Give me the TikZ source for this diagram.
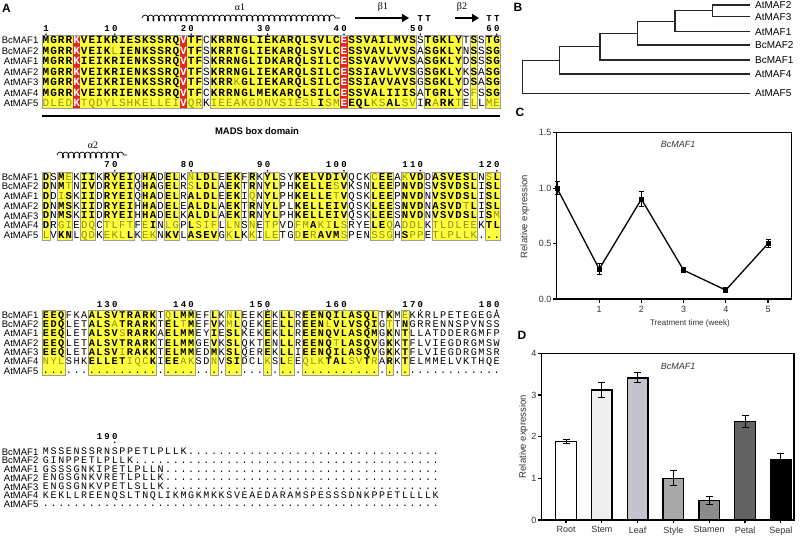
\documentclass[tikz,border=0pt]{standalone}
\usepackage{fontspec}
\setmainfont{Liberation Sans}
\newfontfamily\monof{Liberation Mono}
\newfontfamily\serf{Liberation Serif}
\usetikzlibrary{decorations.pathmorphing,arrows.meta}
\definecolor{yel}{HTML}{FFFF3C}
\definecolor{redb}{HTML}{E3262B}
\definecolor{oliv}{HTML}{8F8F1A}
\definecolor{frmc}{HTML}{9C9C9C}
\definecolor{axc}{HTML}{333333}
\makeatletter
\def\rep#1#2{\ifnum#2>0 #1\expandafter\rep\expandafter#1\expandafter{\the\numexpr#2-1\relax}\fi}
\newcount\alcol
\def\alxz{46}
\def\alfb{\monof\bfseries\fontsize{11}{11}\selectfont}
\def\alfn{\monof\fontsize{11}{11}\selectfont}
\def\numf{\monof\bfseries\fontsize{9}{9}\selectfont}
\def\alrow#1#2#3{\global\alcol=0\relax\def\al@y{#1}\edef\al@types{#2}\edef\al@seq{#3}\expandafter\al@loop\al@seq\relax}
\def\al@loop#1{\ifx#1\relax\else\al@char{#1}\expandafter\al@loop\fi}
\def\al@pop#1#2\@nil{\def\al@t{#1}\def\al@types{#2}}
\def\al@char#1{%
  \expandafter\al@pop\al@types\@nil
  \pgfmathsetmacro\al@x{\alxz+7.64*\the\alcol}%
  \pgfmathsetmacro\al@yy{\al@y+3.1}%
  \if R\al@t \node[ch,text=white,font=\alfb] at (\al@x,\al@yy) {#1};%
  \else\if W\al@t \node[ch,font=\alfn] at (\al@x,\al@yy) {\uppercase{#1}};%
  \else\ifnum\uccode`#1=\z@ \node[ch,font=\alfn] at (\al@x,\al@yy) {#1};%
  \else\ifnum\uccode`#1=`#1\relax \node[ch,font=\alfb] at (\al@x,\al@yy) {#1};%
  \else \node[ch,text=oliv,font=\alfn] at (\al@x,\al@yy) {\uppercase{#1}};%
  \fi\fi\fi\fi
  \global\advance\alcol by 1\relax}
\makeatother
\edef\bA{\rep Y4R\rep Y{13}R\rep Y2W\rep Y{17}R\rep Y9W\rep Y5WYWYY}
\edef\bB{YWYYWYYW\rep Y4WYYWYYW\rep Y4WYYWYWYYWW\rep Y7WWW\rep Y3W\rep Y3W\rep Y6WYY}
\edef\bC{YYYWWW\rep Y9W\rep Y4WWYWYYWWWYWYYW\rep Y{10}WYWY\rep W{12}}
\edef\bD{\rep W{52}}
\newcommand\cxl[1]{46+7.64*(#1-1)-3.82}
\newcommand\cxr[1]{46+7.64*(#1-1)+3.82}
\newcommand\yfill[4]{\fill[yel] ({\cxl{#3}},#1) rectangle ({\cxr{#4}},#2);}
\newcommand\rfill[3]{\fill[redb] ({\cxl{#3}},#1) rectangle ({\cxr{#3}},#2);}
\newcommand\frm[4]{\draw[frmc,line width=0.6pt] ({\cxl{#3}},#1) rectangle ({\cxr{#4}},#2);}
\newcommand\yb[4]{\yfill{#1}{#2}{#3}{#4}\frm{#1}{#2}{#3}{#4}}
\newcommand\numlab[4]{%
  \foreach \dg [count=\i] in {#4}{\node[ch,font=\numf] at ({46+7.64*(#2-#3+\i-1)},{#1+3}) {\dg};}
  \fill ({46+7.64*(#2-1)},{#1+6.2}) circle (0.9);}
\begin{document}
\begin{tikzpicture}[x=1pt,y=-1pt,
  ch/.style={inner sep=0pt,anchor=base},
  lab/.style={inner sep=0pt,anchor=east,font=\fontsize{9.5}{9.5}\selectfont},
  plab/.style={inner sep=0pt,font=\bfseries\fontsize{12}{12}\selectfont},
  leaf/.style={inner sep=0pt,anchor=west,font=\fontsize{10}{10}\selectfont},
  edge/.style={line width=1.1pt,black!85},
  ax/.style={line width=1.2pt,black},
  tick/.style={inner sep=0pt,font=\fontsize{9}{9}\selectfont,text=axc},
  mk/.style={rectangle,fill=black,minimum size=5pt,inner sep=0pt},
  eb/.style={line width=1pt,black}]
\useasboundingbox (0,0) rectangle (800,538);
\fill[white] (0,0) rectangle (800,538);
% ---------------- panel A ----------------
\node[plab] (pA) at (6.5,8.5) {A};
% block 1 annotations
\draw[line width=0.7pt,decorate,decoration={coil,aspect=0.6,segment length=5.5pt,amplitude=3pt}] (142,18) -- (340,18);
\node[font=\serf\fontsize{10}{10}\selectfont] (a1) at (240,7) {α1};
\coordinate (b1s) at (355,18); \coordinate (b1e) at (409,18);
\draw[line width=2.2pt,-{Triangle[length=7pt,width=8pt]}] (b1s) -- (b1e);
\node[font=\serf\fontsize{10}{10}\selectfont] (b1) at (383,7) {β1};
\coordinate (b2s) at (455,18); \coordinate (b2e) at (479,18);
\draw[line width=2.2pt,-{Triangle[length=7pt,width=8pt]}] (b2s) -- (b2e);
\node[font=\serf\fontsize{10}{10}\selectfont] (b2) at (462,7) {β2};
\foreach \c in {50,51,59,60}{\node[ch,font=\numf] at ({46+7.64*(\c-1)},21.5) {T};}
\numlab{28}{1}{1}{1}
\numlab{28}{10}{2}{1,0}
\numlab{28}{20}{2}{2,0}
\numlab{28}{30}{2}{3,0}
\numlab{28}{40}{2}{4,0}
\numlab{28}{50}{2}{5,0}
\numlab{28}{60}{2}{6,0}
% block 1 backgrounds
\yfill{35.25}{108.75}{1}{21}\yfill{35.25}{108.75}{23}{49}\yfill{35.25}{108.75}{51}{55}\yfill{35.25}{108.75}{57}{57}\yfill{35.25}{108.75}{59}{60}
\rfill{35.25}{108.75}{5}\rfill{35.25}{108.75}{19}\rfill{35.25}{108.75}{40}
\frm{35.25}{108.75}{1}{21}\frm{35.25}{108.75}{23}{49}\frm{35.25}{108.75}{51}{55}\frm{35.25}{108.75}{57}{57}\frm{35.25}{108.75}{59}{60}
\foreach \nm [count=\i] in {BcMAF1,BcMAF2,AtMAF1,AtMAF2,AtMAF3,AtMAF4,AtMAF5}{\node[lab] (lA\i) at (38.5,{40.5+10.5*(\i-1)}) {\nm};}
\alrow{40.5}{\bA}{MGRRKVEIKRIESKSSRQVTFCKRRNGLIEKARQLSVLCESSVAILMVSSTGKLYTSSTG}
\alrow{51}{\bA}{MGRRKVEIKlIENKSSRQVTFSKRRTGLIEKARQLSVLCESSVAVLVVSASGKLYNSSSG}
\alrow{61.5}{\bA}{MGRRKIEIKRIENKSSRQVTFSKRRNGLIDKARQLSILCESSVAVVVVSASGKLYDSSSG}
\alrow{72}{\bA}{MGRRKVEIKRIENKSSRQVTFSKRRNGLIEKARQLSILCESSIAVLVVSGSGKLYKSASG}
\alrow{82.5}{\bA}{MGRRKVEIKRIENKSSRQVTFSKRRkGLIEKARQLSILCESSIAVVAVSGSGKLYDSASG}
\alrow{93}{\bA}{MGRRKVEIKRIENKSSRQVTFCKRRNGLMEKARQLSILCESSVALIIISATGRLYSfSSG}
\alrow{103.5}{\bA}{dledKtqdylshkelleiVqrKieeakgdnvsieslIsmEEQLksALsvIRaRKtElLme}
\coordinate (md1) at (42,116); \coordinate (md2) at (500,116);
\draw[line width=1.4pt] (md1) -- (md2);
\node[font=\bfseries\fontsize{9.5}{9.5}\selectfont] (mads) at (257,131) {MADS box domain};
% block 2
\def\alfb{\monof\bfseries\fontsize{10.6}{10.6}\selectfont}
\def\alfn{\monof\fontsize{10.6}{10.6}\selectfont}
\draw[line width=0.7pt,decorate,decoration={coil,aspect=0.6,segment length=5.5pt,amplitude=3pt}] (57,155) -- (127,155);
\node[font=\serf\fontsize{10}{10}\selectfont] (a2) at (93,145) {α2};
\numlab{164.5}{10}{2}{7,0}
\numlab{164.5}{20}{2}{8,0}
\numlab{164.5}{30}{2}{9,0}
\numlab{164.5}{40}{3}{1,0,0}
\numlab{164.5}{50}{3}{1,1,0}
\numlab{164.5}{60}{3}{1,2,0}
\foreach \a/\b in {1/1,3/4,6/7,9/12,14/15,17/18,20/23,25/26,28/28,30/31,34/40,44/46,48/50,52/57,59/60}{\yb{172.15}{240.05}{\a}{\b}}
\foreach \nm [count=\i] in {BcMAF1,BcMAF2,AtMAF1,AtMAF2,AtMAF3,AtMAF4,AtMAF5}{\node[lab] (lB\i) at (38.5,{177+9.7*(\i-1)}) {\nm};}
\alrow{177}{\bB}{DSMeKIIKRYEIQHADELKnLDLEEKFRKYLSYKELVDIVQCKcEEAkVDDASVESLNsL}
\alrow{186.7}{\bB}{DNMtNIVDRYEIQHAGELRsLDLAEKTRNYLPHKELLEsVKSNLEEPNVDSVSVDSLISL}
\alrow{196.4}{\bB}{DDiSKIIDRYEIQHADELRALDLEEKIqNYLPHKELLEtVQSKLEEPNVDNVSVDSLISL}
\alrow{206.1}{\bB}{DNMSKIIDRYEIHHADELEALDLAEKTRNYLPLKELLEIVQSKLEESNVDNASVDtLISL}
\alrow{215.8}{\bB}{DNMSKIIDRYEIHHADELKALDLAEKIRNYLPHKELLEIVQSKLEESNVDNVSVDSLISm}
\alrow{225.5}{\bB}{DRgiEdqCtlftFeINlgPLsifLlnSnEtpVDfmAkiLsRYELEqAddlKtldleeKTL}
\alrow{235.2}{\bB}{lVKNLqdKeklLKekNKVLASEVGkLKkIleTGdErAVMsPENssgHSppEtlpllk...}
% block 3
\def\alfb{\monof\bfseries\fontsize{10.2}{10.2}\selectfont}
\def\alfn{\monof\fontsize{10.2}{10.2}\selectfont}
\numlab{304}{10}{3}{1,3,0}
\numlab{304}{20}{3}{1,4,0}
\numlab{304}{30}{3}{1,5,0}
\numlab{304}{40}{3}{1,6,0}
\numlab{304}{50}{3}{1,7,0}
\numlab{304}{60}{3}{1,8,0}
\foreach \a/\b in {1/3,7/15,17/20,23/23,25/26,30/30,32/33,35/44,46/46,48/48}{\yb{310.35}{375.45}{\a}{\b}}
\foreach \nm [count=\i] in {BcMAF1,BcMAF2,AtMAF1,AtMAF2,AtMAF3,AtMAF4,AtMAF5}{\node[lab] (lC\i) at (38.5,{315+9.3*(\i-1)}) {\nm};}
\alrow{315}{\bC}{EEQFKAALSVTRARKTqLMMEFLKnLEEKEKLLREENQILASQLTKMeKKRLPETEGEGA}
\alrow{324.3}{\bC}{EDQLETALSaTRARKTELtMEFVKmLQEKEELLREENlVLVSQIGtTNGRRENNSPVNSS}
\alrow{333.6}{\bC}{EEQLETALSVsRARKAELMMEYIESLKEKEKLLREENQVLASQMGKNTLLATDDERGMFP}
\alrow{342.9}{\bC}{EEQLETALSVTRARKTELMMGEVKSLQKTENLLREENQtLASQVGKKTFLVIEGDRGMSW}
\alrow{352.2}{\bC}{EEQLETALSViRAKKTELMMEDMKSLQEREKLLIEENQILASQVGKKTFLVIEGDRGMSR}
\alrow{361.5}{\bC}{nylSHKELLETiqcKIEEakSDnVSIDCLkSLeEqlkTALsvTrARKTELMMELVKTHQE}
\alrow{370.8}{\bC}{\rep.{60}}
% block 4
\def\alfn{\monof\fontsize{10}{10}\selectfont}
\numlab{436}{10}{3}{1,9,0}
\foreach \nm [count=\i] in {BcMAF1,BcMAF2,AtMAF1,AtMAF2,AtMAF3,AtMAF4,AtMAF5}{\node[lab] (lD\i) at (38.5,{452+8.7*(\i-1)}) {\nm};}
\alrow{451.6}{\bD}{MSSENSSRNSPPETLPLLK\rep.{33}}
\alrow{460.3}{\bD}{GINPPETLPLLK\rep.{40}}
\alrow{469}{\bD}{GSSSGNKIPETLPLLN\rep.{36}}
\alrow{477.7}{\bD}{ENGSGNKVRETLPLLK\rep.{36}}
\alrow{486.4}{\bD}{ENGSGNKVPETLSLLK\rep.{36}}
\alrow{495.1}{\bD}{KEKLLREENQSLTNQLIKMGKMKKSVEAEDARAMSPESSSDNKPPETLLLLK}
\alrow{503.8}{\bD}{\rep.{52}}
% ---------------- panel B ----------------
\node[plab] (pB) at (518,7.5) {B};
\coordinate (L2) at (750,5); \coordinate (L3) at (750,16.7); \coordinate (L1) at (750,31.7);
\coordinate (Lb2) at (750,45); \coordinate (Lb1) at (750,60); \coordinate (L4) at (750,74); \coordinate (L5) at (750,93.3);
\coordinate (n23) at (712.7,10.85); \coordinate (n123) at (675,21.3); \coordinate (nb2) at (637.3,33.1);
\coordinate (nb1) at (600,46.6); \coordinate (n4) at (559.3,60.3); \coordinate (root) at (522.3,76.8);
\draw[edge] (n23) |- (L2); \draw[edge] (n23) |- (L3);
\draw[edge] (n123) |- (n23); \draw[edge] (n123) |- (L1);
\draw[edge] (nb2) |- (n123); \draw[edge] (nb2) |- (Lb2);
\draw[edge] (nb1) |- (nb2); \draw[edge] (nb1) |- (Lb1);
\draw[edge] (n4) |- (nb1); \draw[edge] (n4) |- (L4);
\draw[edge] (root) |- (n4); \draw[edge] (root) |- (L5);
\node[leaf] (tL2) at ([xshift=5pt]L2) {AtMAF2};
\node[leaf] (tL3) at ([xshift=5pt]L3) {AtMAF3};
\node[leaf] (tL1) at ([xshift=5pt]L1) {AtMAF1};
\node[leaf] (tLb2) at ([xshift=5pt]Lb2) {BcMAF2};
\node[leaf] (tLb1) at ([xshift=5pt]Lb1) {BcMAF1};
\node[leaf] (tL4) at ([xshift=5pt]L4) {AtMAF4};
\node[leaf] (tL5) at ([xshift=5pt]L5) {AtMAF5};
% ---------------- panel C ----------------
\node[plab] (pC) at (520,112) {C};
\draw[ax] (556.7,132.7) rectangle (791.7,299);
\foreach \v/\t in {0/0.0,0.5/0.5,1/1.0,1.5/1.5}{\draw[ax] (556.7,{299-110.9*\v}) -- ++(-3.5,0); \node[tick,anchor=east] at (551.5,{299-110.9*\v}) {\t};}
\foreach \k in {1,...,5}{\draw[ax] ({557+42.2*\k},299) -- ++(0,3.5); \node[tick,anchor=north] at ({557+42.2*\k},306) {\k};}
\node[tick,font=\fontsize{8}{8}\selectfont] (cxl) at (690,323) {Treatment time (week)};
\node[tick,rotate=90,font=\fontsize{9.5}{9.5}\selectfont] (cyl) at (525,216.7) {Relative expression};
\node[font=\itshape\fontsize{9}{9}\selectfont,text=axc] (cti) at (678,144) {BcMAF1};
\foreach \k/\v/\e in {0/1.0/0.06,1/0.27/0.05,2/0.9/0.065,3/0.26/0.02,4/0.08/0.025,5/0.5/0.04}{
  \coordinate (p\k) at ({557+42.2*\k},{299-110.9*\v});
  \draw[eb] ({557+42.2*\k},{299-110.9*(\v+\e)}) -- ({557+42.2*\k},{299-110.9*(\v-\e)});
  \draw[eb] ({557+42.2*\k-2.5},{299-110.9*(\v+\e)}) -- ++(5,0);
  \draw[eb] ({557+42.2*\k-2.5},{299-110.9*(\v-\e)}) -- ++(5,0);}
\draw[line width=1.3pt] (p0) -- (p1) -- (p2) -- (p3) -- (p4) -- (p5);
\foreach \k in {0,...,5}{\node[mk] (m\k) at (p\k) {};}
% ---------------- panel D ----------------
\node[plab] (pD) at (522,335) {D};
\draw[ax] (541.7,353.3) rectangle (794,520);
\foreach \v in {0,...,4}{\draw[ax] (541.7,{520-41.67*\v}) -- ++(-3.5,0); \node[tick,anchor=east] at (536.5,{520-41.67*\v}) {\v};}
\node[tick,rotate=90,font=\fontsize{9.5}{9.5}\selectfont] (dyl) at (523.3,436.7) {Relative expression};
\node[font=\itshape\fontsize{9}{9}\selectfont,text=axc] (dti) at (678,366) {BcMAF1};
\foreach \k/\nm/\v/\e/\col in {0/Root/1.89/0.05/FFFFFF,1/Stem/3.12/0.17/EFEFEF,2/Leaf/3.41/0.12/C4C4CC,3/Style/1.0/0.18/A8A8A8,4/Stamen/0.47/0.1/8C8C8C,5/Petal/2.36/0.15/636363,6/Sepal/1.46/0.14/000000}{
  \definecolor{bc}{HTML}{\col}
  \draw[line width=1.3pt,fill=bc] ({566+35.8*\k-10.3},520) rectangle ({566+35.8*\k+10.3},{520-41.67*\v});
  \draw[eb] ({566+35.8*\k},{520-41.67*(\v+\e)}) -- ({566+35.8*\k},{520-41.67*(\v-\e)});
  \draw[eb] ({566+35.8*\k-3.5},{520-41.67*(\v+\e)}) -- ++(7,0);
  \draw[eb] ({566+35.8*\k-3.5},{520-41.67*(\v-\e)}) -- ++(7,0);
  \draw[ax] ({566+35.8*\k},520) -- ++(0,3);
  \node[tick,anchor=north] (x\k) at ({566+35.8*\k},526.5) {\nm};}
\end{tikzpicture}
\end{document}
